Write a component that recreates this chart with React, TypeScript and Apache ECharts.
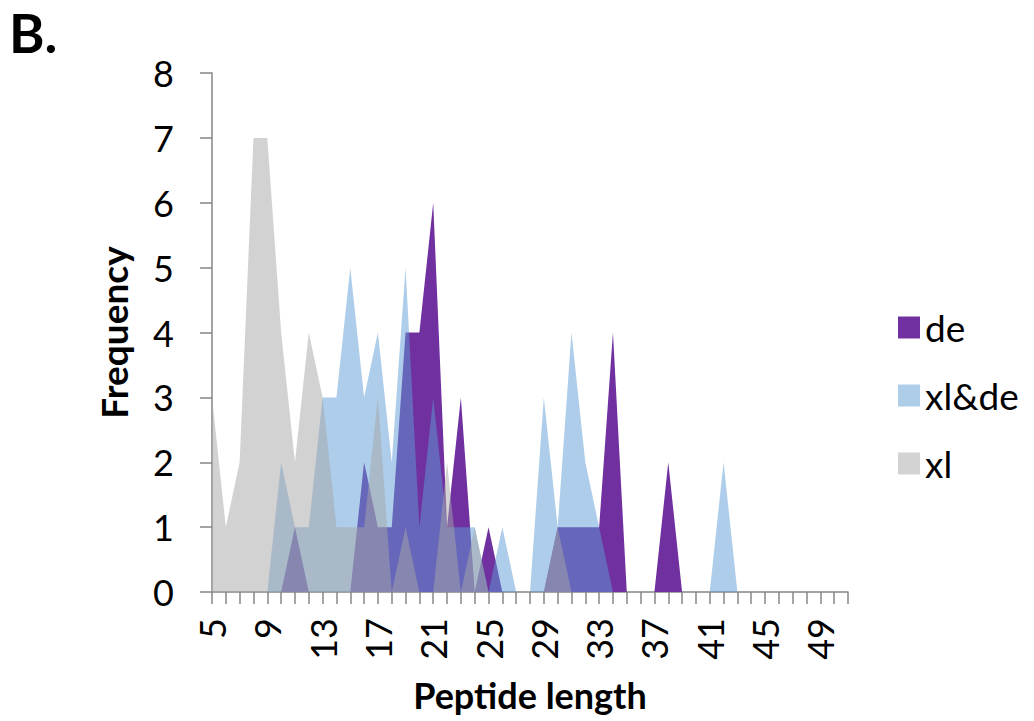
import React, { useEffect, useRef } from "react";
import * as echarts from "echarts";

const categories: string[] = [];
for (let c = 5; c <= 51; c++) categories.push(String(c));

// Frequencies by peptide length 5..51
const deValues = [
  0, 0, 0, 0, 0, 0, 1, 0, 0, 0,
  0, 2, 1, 1, 4, 4, 6, 1, 3, 0,
  1, 0, 0, 0, 0, 1, 1, 1, 1, 4,
  0, 0, 0, 2, 0, 0, 0, 0, 0, 0,
  0, 0, 0, 0, 0, 0, 0,
];
const xlDeValues = [
  0, 0, 0, 0, 0, 2, 1, 1, 3, 3,
  5, 3, 4, 2, 5, 1, 3, 1, 1, 1,
  0, 1, 0, 0, 3, 1, 4, 2, 1, 0,
  0, 0, 0, 0, 0, 0, 0, 2, 0, 0,
  0, 0, 0, 0, 0, 0, 0,
];
const xlValues = [
  3, 1, 2, 7, 7, 4, 2, 4, 3, 1,
  1, 1, 3, 0, 1, 0, 0, 2, 0, 1,
  0, 0, 0, 0, 0, 1, 0, 0, 0, 0,
  0, 0, 0, 0, 0, 0, 0, 0, 0, 0,
  0, 0, 0, 0, 0, 0, 0,
];
const yTicks = [0, 1, 2, 3, 4, 5, 6, 7, 8];

const FONT = "Lato, 'Open Sans', sans-serif";

export default function App() {
  const ref = useRef<HTMLDivElement>(null);
  useEffect(() => {
    if (!ref.current) return;
    const chart = echarts.init(ref.current, null, { renderer: "svg" });
    const axisGray = "#868686";
    chart.setOption({
      animation: false,
      backgroundColor: "#ffffff",
      textStyle: { fontFamily: FONT },
      title: {
        text: "B.",
        left: 4,
        top: 0,
        textStyle: { fontSize: 54, fontWeight: "bold", color: "#000", fontFamily: FONT },
      },
      legend: {
        orient: "vertical",
        left: 893,
        top: 304,
        itemWidth: 22,
        itemHeight: 22,
        itemGap: 31,
        icon: "rect",
        textStyle: { fontSize: 37, color: "#000", fontFamily: FONT },
        data: [
          { name: "de", itemStyle: { color: "#7030a0" } },
          { name: "xl&de", itemStyle: { color: "#aecde9" } },
          { name: "xl", itemStyle: { color: "#d3d3d3" } },
        ],
      },
      grid: {
        left: 212,
        top: 73,
        right: 186,
        bottom: 129,
        containLabel: false,
        outerBoundsMode: "none",
      },
      xAxis: {
        type: "category",
        data: categories,
        boundaryGap: false,
        name: "Peptide length",
        nameLocation: "middle",
        nameGap: 85,
        nameTextStyle: { fontSize: 36, fontWeight: "bold", color: "#000", fontFamily: FONT },
        axisLine: { lineStyle: { color: axisGray, width: 1.5 } },
        axisTick: { show: true, interval: 0, length: 12, lineStyle: { color: axisGray, width: 1.5 } },
        axisLabel: {
          interval: 3,
          rotate: 90,
          margin: 26,
          fontSize: 36,
          color: "#000",
          fontFamily: FONT,
        },
        splitLine: { show: false },
      },
      yAxis: {
        type: "value",
        min: 0,
        max: 8,
        interval: 1,
        name: "Frequency",
        nameLocation: "middle",
        nameRotate: 90,
        nameGap: 80,
        nameTextStyle: { fontSize: 37, fontWeight: "bold", color: "#000", fontFamily: FONT },
        axisLine: { show: true, lineStyle: { color: axisGray, width: 1.5 } },
        axisTick: { show: true, length: 12, lineStyle: { color: axisGray, width: 1.5 } },
        axisLabel: {
          margin: 38,
          fontSize: 36,
          color: "#000",
          fontFamily: FONT,
          formatter: (v: number) => (yTicks.includes(v) ? String(v) : ""),
        },
        splitLine: { show: false },
      },
      series: [
        {
          name: "de",
          type: "line",
          data: deValues,
          symbol: "none",
          lineStyle: { width: 0, opacity: 0 },
          itemStyle: { color: "#7030a0" },
          areaStyle: { color: "#7030a0", opacity: 1 },
        },
        {
          name: "xl&de",
          type: "line",
          data: xlDeValues,
          symbol: "none",
          lineStyle: { width: 0, opacity: 0 },
          itemStyle: { color: "#aecde9" },
          areaStyle: { color: "#5b9bd5", opacity: 0.5 },
        },
        {
          name: "xl",
          type: "line",
          data: xlValues,
          symbol: "none",
          lineStyle: { width: 0, opacity: 0 },
          itemStyle: { color: "#d3d3d3" },
          areaStyle: { color: "#a5a5a5", opacity: 0.5 },
        },
      ],
    });
    return () => chart.dispose();
  }, []);
  return (
    <div
      ref={ref}
      style={{ position: "fixed", left: 0, top: 0, width: 1034, height: 721 }}
    />
  );
}
